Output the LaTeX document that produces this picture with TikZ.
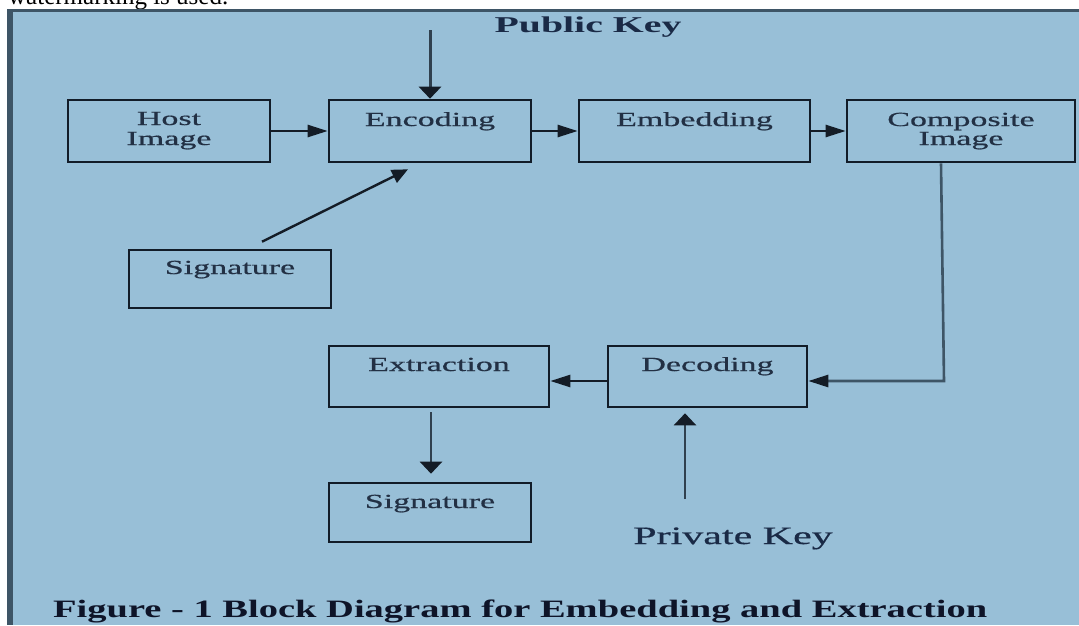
\documentclass[tikz,border=0pt]{standalone}
\usepackage{fontspec}
\setmainfont{Liberation Serif}
\newfontfamily\boxfont[FakeStretch=1.7,FakeBold=0.6]{Liberation Serif}
\newfontfamily\pubfont[FakeStretch=1.76]{Liberation Serif}
\newfontfamily\privfont[FakeStretch=1.68,FakeBold=0.6]{Liberation Serif}
\newfontfamily\capfont[FakeStretch=1.54]{Liberation Serif}
\usetikzlibrary{arrows.meta,calc}
\definecolor{bgblue}{RGB}{152,191,215}
\definecolor{frame}{RGB}{62,85,102}
\definecolor{boxline}{RGB}{18,28,40}
\definecolor{boxtxt}{RGB}{34,48,68}
\definecolor{keytxt}{RGB}{26,42,70}
\definecolor{captxt}{RGB}{14,20,40}
\definecolor{wire}{RGB}{20,28,38}
\definecolor{greywire}{RGB}{48,64,78}
\tikzset{
  blk/.style={draw=boxline, line width=2.6pt, rectangle, inner sep=0pt},
  btxt/.style={anchor=base, inner sep=0pt, text=boxtxt, font=\boxfont\fontsize{20}{20}\selectfont},
  hconn/.style={draw=wire, line width=2.4pt, -{Triangle[length=20pt,width=12pt,color=wire]}},
  vconn/.style={draw=wire, line width=2.4pt, -{Triangle[length=12pt,width=22pt,color=wire]}},
  dconn/.style={draw=wire, line width=2.4pt, -{Triangle[length=16pt,width=14pt,color=wire]}},
}
\begin{document}
\begin{tikzpicture}[x=1pt,y=-1pt]
\useasboundingbox (0,0) rectangle (1079,625);
\clip (0,0) rectangle (1079,625);
\fill[white] (0,0) rectangle (1079,625);
\node[anchor=base west, inner sep=0pt, font=\fontsize{25}{25}\selectfont] (wm) at (8,4) {watermarking is used.};
\fill[bgblue] (7,10) rectangle (1079,625);
\fill[frame] (7,9) rectangle (1079,12);
\fill[frame] (7,9) rectangle (13,625);

% boxes
\node[blk, minimum width=202pt, minimum height=62pt] (host) at (169,131) {};
\node[blk, minimum width=202pt, minimum height=62pt] (enc) at (430,131) {};
\node[blk, minimum width=231pt, minimum height=62pt] (emb) at (694.5,131) {};
\node[blk, minimum width=228pt, minimum height=62pt] (comp) at (961,131) {};
\node[blk, minimum width=202pt, minimum height=58pt] (sigA) at (230,279) {};
\node[blk, minimum width=220pt, minimum height=61pt] (extr) at (439,376.5) {};
\node[blk, minimum width=199pt, minimum height=61pt] (dec) at (707.5,376.5) {};
\node[blk, minimum width=202pt, minimum height=59pt] (sigB) at (430,512.5) {};

% box texts
\node[btxt] (hostA) at (169,125) {Host};
\node[btxt] (hostB) at (169,145) {Image};
\node[btxt] (encT) at (430,126) {Encoding};
\node[btxt] (embT) at (694.5,126) {Embedding};
\node[btxt] (compA) at (961,126) {Composite};
\node[btxt] (compB) at (961,145) {Image};
\node[btxt] (sigAT) at (230,274) {Signature};
\node[btxt] (extrT) at (439,371) {Extraction};
\node[btxt] (decT) at (707.5,371) {Decoding};
\node[btxt] (sigBT) at (430,508) {Signature};

% free texts
\node[anchor=base, inner sep=0pt, text=keytxt, font=\pubfont\bfseries\fontsize{22.6}{22.6}\selectfont] (pub) at (588,32) {Public Key};
\node[anchor=base, inner sep=0pt, text=keytxt, font=\privfont\fontsize{25}{25}\selectfont] (priv) at (733,544) {Private Key};
\node[anchor=base west, inner sep=0pt, text=captxt, font=\capfont\bfseries\fontsize{25}{25}\selectfont] (cap) at (53,617) {Figure - 1 Block Diagram for Embedding and Extraction};

% connector coordinates
\coordinate (pkS) at (430,30);
\coordinate (dA) at ([xshift=32pt,yshift=7pt]sigA.north);
\coordinate (dB) at ([xshift=-22pt,yshift=-6pt]enc.south);
\coordinate (cS) at ([xshift=-20pt]comp.south);
\coordinate (cC) at (944,381);
\coordinate (exS) at ([xshift=-8pt,yshift=-4pt]extr.south);
\coordinate (pvS) at (685,499);
\coordinate (pvE) at ([xshift=-22.5pt,yshift=-5pt]dec.south);

% connectors
\draw[vconn, line width=3pt, draw=greywire] (pkS) -- (enc.north);
\draw[hconn] (host.east) -- (enc.west);
\draw[hconn] (enc.east) -- (emb.west);
\draw[hconn] (emb.east) -- (comp.west);
\draw[dconn] (dA) -- (dB);
\draw[hconn, draw=frame, line width=2.6pt] (cS) -- (cC) -- (dec.east |- cC);
\draw[hconn] ([yshift=-4.5pt]dec.west) -- (extr.east |- cC);
\draw[vconn, draw=greywire] (exS) -- ([yshift=8pt]sigB.north -| exS);
\draw[vconn, draw=greywire, line width=2.6pt] (pvS) -- (pvE);
\end{tikzpicture}
\end{document}
